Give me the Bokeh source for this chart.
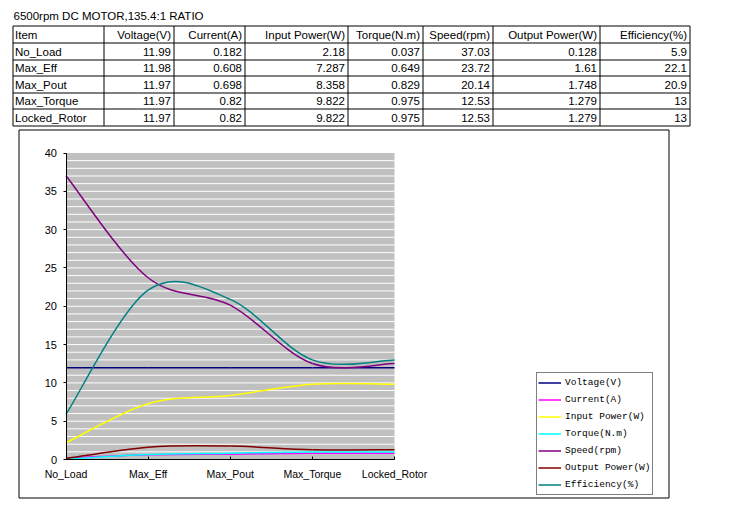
import numpy as np
from bokeh.plotting import figure
from bokeh.models import Range1d, LinearAxis, FixedTicker, Legend, LegendItem, ColumnDataSource
from bokeh.core.properties import value
from bokeh.embed import file_html
from bokeh.resources import INLINE

# ---------------- data ----------------
title = "6500rpm DC MOTOR,135.4:1 RATIO"
item_header = "Item"
categories = ["No_Load", "Max_Eff", "Max_Pout", "Max_Torque", "Locked_Rotor"]
series_names = ["Voltage(V)", "Current(A)", "Input Power(W)", "Torque(N.m)",
                "Speed(rpm)", "Output Power(W)", "Efficiency(%)"]
voltage = [11.99, 11.98, 11.97, 11.97, 11.97]
current = [0.182, 0.608, 0.698, 0.82, 0.82]
input_power = [2.18, 7.287, 8.358, 9.822, 9.822]
torque = [0.037, 0.649, 0.829, 0.975, 0.975]
speed = [37.03, 23.72, 20.14, 12.53, 12.53]
output_power = [0.128, 1.61, 1.748, 1.279, 1.279]
efficiency = [5.9, 22.1, 20.9, 13, 13]
y_ticks = [0, 5, 10, 15, 20, 25, 30, 35, 40]

series = [voltage, current, input_power, torque, speed, output_power, efficiency]
colors = ["#000080", "#FF00FF", "#FFFF00", "#00FFFF", "#800080", "#800000", "#008080"]

FONT = value("Liberation Sans")
W, H = 729, 505

# one canvas; default ranges are pixel coordinates for the page furniture
p = figure(width=W, height=H, x_range=Range1d(0, W), y_range=Range1d(H, 0),
           output_backend="svg", toolbar_location=None, min_border=0,
           outline_line_color=None, x_axis_location=None, y_axis_location=None,
           background_fill_color="white", border_fill_color="white")
p.grid.visible = False

# chart data ranges (plot area: x 65.5..394 px, y 459..152.5 px)
px_x0, px_x1 = 65.5, 394.0
px_y0, px_y1 = 459.0, 152.5
n = len(categories)
sx = (px_x1 - px_x0) / (n - 1)
sy = (px_y0 - px_y1) / (y_ticks[-1] - y_ticks[0])
p.extra_x_ranges = {"cx": Range1d(-px_x0 / sx, (n - 1) + (W - px_x1) / sx)}
p.extra_y_ranges = {"cy": Range1d(-(H - px_y0) / sy, y_ticks[-1] + px_y1 / sy)}

# ---------------- table ----------------
col_edges = [12.5, 103.5, 173.5, 244.5, 347.5, 422.5, 492.5, 599.5, 689.5]
row_edges = [25.5, 42.5, 59.5, 75.5, 92.5, 108.5, 125.5]

p.segment(x0=[col_edges[0]] * len(row_edges), x1=[col_edges[-1]] * len(row_edges),
          y0=row_edges, y1=row_edges, line_color="black", line_width=1)
p.segment(x0=col_edges, x1=col_edges, y0=[row_edges[0]] * len(col_edges),
          y1=[row_edges[-1]] * len(col_edges), line_color="black", line_width=1)

p.text(x=[13], y=[15], text=[title], text_font=FONT, text_font_size="11.5px",
       text_align="left", text_baseline="middle", text_color="black")

lx, ly, lt = [], [], []
rx, ry, rt = [], [], []
lx.append(col_edges[0] + 2); ly.append((row_edges[0] + row_edges[1]) / 2); lt.append(item_header)
for j, nm in enumerate(series_names):
    rx.append(col_edges[j + 2] - 3); ry.append((row_edges[0] + row_edges[1]) / 2); rt.append(nm)
for i, cat in enumerate(categories):
    yc = (row_edges[i + 1] + row_edges[i + 2]) / 2
    lx.append(col_edges[0] + 2); ly.append(yc); lt.append(cat)
    for j, s in enumerate(series):
        rx.append(col_edges[j + 2] - 3); ry.append(yc); rt.append("{:g}".format(s[i]))

p.text(x=lx, y=ly, text=lt, text_font=FONT, text_font_size="11.5px",
       text_align="left", text_baseline="middle", text_color="black")
p.text(x=rx, y=ry, text=rt, text_font=FONT, text_font_size="11.5px",
       text_align="right", text_baseline="middle", text_color="black")

# chart box
p.quad(left=[18.5], right=[668.5], top=[129.5], bottom=[497.5],
       fill_color=None, line_color="black", line_width=1)

# ---------------- chart ----------------
p.quad(left=[0], right=[n - 1], bottom=[y_ticks[0]], top=[y_ticks[-1]],
       fill_color="#C0C0C0", line_color=None, x_range_name="cx", y_range_name="cy")
levels = np.arange(y_ticks[0] + 1, y_ticks[-1])
p.segment(x0=np.zeros(len(levels)), x1=np.full(len(levels), n - 1), y0=levels, y1=levels,
          line_color="white", line_width=1, x_range_name="cx", y_range_name="cy")

xs = np.arange(n, dtype=float)
items = []
for nm, s, c in zip(series_names, series, colors):
    y = np.asarray(s, dtype=float)
    xp = np.concatenate([[xs[0]], xs, [xs[-1]]])
    yp = np.concatenate([[y[0]], y, [y[-1]]])
    src = ColumnDataSource(dict(
        x0=xs[:-1], y0=y[:-1], x1=xs[1:], y1=y[1:],
        cx0=xp[1:-2] + (xp[2:-1] - xp[:-3]) / 6, cy0=yp[1:-2] + (yp[2:-1] - yp[:-3]) / 6,
        cx1=xp[2:-1] - (xp[3:] - xp[1:-2]) / 6, cy1=yp[2:-1] - (yp[3:] - yp[1:-2]) / 6,
    ))
    r = p.bezier(x0="x0", y0="y0", x1="x1", y1="y1", cx0="cx0", cy0="cy0",
                 cx1="cx1", cy1="cy1", source=src, line_color=c, line_width=1.5,
                 x_range_name="cx", y_range_name="cy")
    items.append(LegendItem(label=nm, renderers=[r]))

yax = LinearAxis(x_range_name="cx", y_range_name="cy", fixed_location=0,
                 bounds=(y_ticks[0], y_ticks[-1]), ticker=FixedTicker(ticks=y_ticks),
                 major_tick_in=0, major_tick_out=3, minor_tick_line_color=None,
                 major_label_standoff=6, axis_line_color="black", major_tick_line_color="black",
                 major_label_text_font="Liberation Sans", major_label_text_font_size="11px",
                 major_label_text_color="black")
p.add_layout(yax, "left")
xax = LinearAxis(x_range_name="cx", y_range_name="cy", fixed_location=0,
                 bounds=(0, n - 1), ticker=FixedTicker(ticks=list(range(n))),
                 major_label_overrides={i: c for i, c in enumerate(categories)},
                 major_tick_in=3, major_tick_out=0, minor_tick_line_color=None,
                 major_label_standoff=8, axis_line_color="black", major_tick_line_color="black",
                 major_label_text_font="Liberation Sans", major_label_text_font_size="10.5px",
                 major_label_text_color="black")
p.add_layout(xax, "below")

legend = Legend(items=items, location=(536, 10), orientation="vertical",
                glyph_width=23, glyph_height=17, label_height=17, spacing=0, padding=1,
                label_standoff=4, border_line_color="black", border_line_width=1,
                background_fill_color="white", background_fill_alpha=1,
                label_text_font="Liberation Mono", label_text_font_size="9.5px",
                label_text_color="black", margin=0)
p.add_layout(legend)

open("out.html", "w").write(file_html(p, INLINE))
